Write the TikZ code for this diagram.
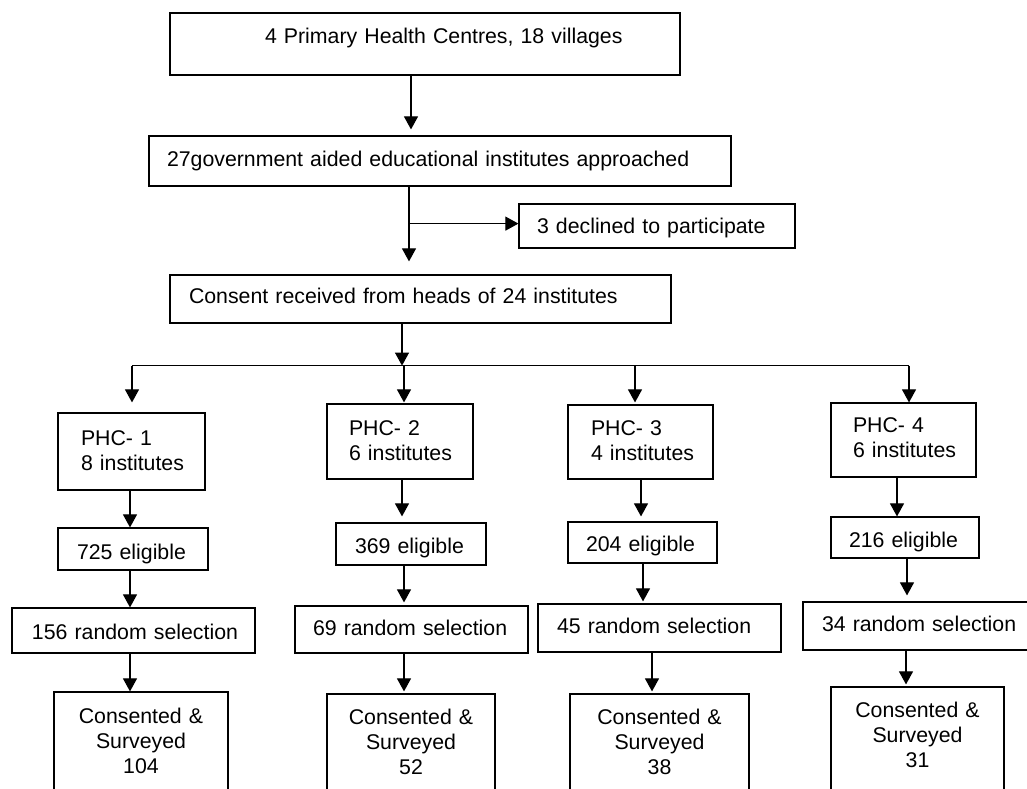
\documentclass[tikz,border=0pt]{standalone}
\usepackage{fontspec}
\setmainfont{Liberation Sans}
\usetikzlibrary{arrows.meta}
\begin{document}
\begin{tikzpicture}[x=1pt,y=-1pt,
  box/.style={draw, line width=1.2pt, rectangle, inner sep=0pt, align=left,
    font=\fontsize{21.3}{25}\selectfont},
  bx/.style n args={4}{box, minimum width=#1pt, minimum height=#2pt, text width=#1pt,
    text height=#3pt, text depth=#4pt},
  cbx/.style n args={4}{bx={#1}{#2}{#3}{#4}, align=center},
  arr/.style={line width=1.1pt, -{Triangle[length=13pt,width=14pt]}},
  ln/.style={line width=1.1pt}]
\useasboundingbox (0,0) rectangle (1027,788);
\clip (0,0) rectangle (1027,788);

\node[bx={510}{62}{0}{2}] (top) at (425,44) {\hspace*{95pt}4 Primary Health Centres, 18 villages};
\node[bx={582}{50}{10}{0}] (b2) at (440,161) {\hspace*{18pt}27government aided educational institutes approached};
\node[bx={276}{44}{14}{0}] (dec) at (657,226) {\hspace*{18pt}3 declined to participate};
\node[bx={501}{48}{8}{0}] (con) at (420.5,299) {\hspace*{19pt}Consent received from heads of 24 institutes};

\node[bx={147}{77}{0}{13}] (p1) at (131.5,451.5) {\hspace*{23pt}PHC- 1\\\hspace*{23pt}8 institutes};
\node[bx={146}{75}{0}{13}] (p2) at (400,441.5) {\hspace*{22pt}PHC- 2\\\hspace*{22pt}6 institutes};
\node[bx={145}{74}{0}{14}] (p3) at (640.5,442) {\hspace*{23pt}PHC- 3\\\hspace*{23pt}4 institutes};
\node[bx={145}{74}{0}{14.6}] (p4) at (903.5,440) {\hspace*{22pt}PHC- 4\\\hspace*{22pt}6 institutes};

\node[bx={150}{42}{20}{0}] (e1) at (133,549) {\hspace*{19pt}725 eligible};
\node[bx={150}{42}{18}{0}] (e2) at (411,544) {\hspace*{19pt}369 eligible};
\node[bx={149}{41}{17}{0}] (e3) at (642.5,542.5) {\hspace*{18pt}204 eligible};
\node[bx={148}{41}{19}{0}] (e4) at (905,537.5) {\hspace*{18pt}216 eligible};

\node[bx={243}{45}{17}{0}] (r1) at (133.5,630.5) {\hspace*{20pt}156 random selection};
\node[bx={233}{47}{11}{0}] (r2) at (411.5,629.5) {\hspace*{18pt}69 random selection};
\node[bx={243}{48}{10}{0}] (r3) at (659.5,628) {\hspace*{19pt}45 random selection};
\node[bx={237}{48}{10}{0}] (r4) at (921.5,626) {\hspace*{19pt}34 random selection};

\node[cbx={174}{108}{0}{46}] (c1) at (141,746) {Consented \&\\Surveyed\\104};
\node[cbx={168}{106}{0}{46}] (c2) at (411,747) {Consented \&\\Surveyed\\52};
\node[cbx={179}{106}{0}{46}] (c3) at (659.5,747) {Consented \&\\Surveyed\\38};
\node[cbx={173}{113}{0}{53}] (c4) at (917.5,743.5) {Consented \&\\Surveyed\\31};

% top part
\draw[arr, shorten >=6pt] ([xshift=-14pt]top.south) -- ([xshift=-14pt]top.south |- b2.north);
\draw[arr, shorten >=13pt] ([xshift=-31pt]b2.south) -- ([xshift=-31pt]b2.south |- con.north);
\coordinate (br) at ([xshift=-31pt,yshift=-37pt]b2.south);
\draw[arr] (br) -- (br -| dec.west);

% split
\coordinate (hub) at ([xshift=-18.5pt,yshift=-42pt]con.south);
\draw[arr] ([xshift=-18.5pt]con.south) -- (hub);
\coordinate (t1) at ([xshift=0.5pt,yshift=10pt]p1.north);
\coordinate (t2) at ([xshift=4pt,yshift=1pt]p2.north);
\coordinate (t3) at ([xshift=-5.5pt,yshift=2pt]p3.north);
\coordinate (t4) at ([xshift=5.5pt]p4.north);
\draw[ln] (hub -| t1) -- (hub -| t4);
\foreach \t in {t1,t2,t3,t4}{\draw[arr] (hub -| \t) -- (\t);}

% PHC -> eligible
\draw[arr] ([xshift=-1.5pt]p1.south) -- ([xshift=-1.5pt]p1.south |- e1.north);
\draw[arr, shorten >=6pt] ([xshift=2pt]p2.south) -- ([xshift=2pt]p2.south |- e2.north);
\draw[arr, shorten >=5pt] ([xshift=0.5pt]p3.south) -- ([xshift=0.5pt]p3.south |- e3.north);
\draw[arr] ([xshift=-6.5pt]p4.south) -- ([xshift=-6.5pt]p4.south |- e4.north);

% eligible -> random
\draw[arr] ([xshift=-3pt]e1.south) -- ([xshift=-3pt]e1.south |- r1.north);
\draw[arr, shorten >=3pt] ([xshift=-7pt]e2.south) -- ([xshift=-7pt]e2.south |- r2.north);
\draw[arr, shorten >=2pt] ([xshift=0.5pt]e3.south) -- ([xshift=0.5pt]e3.south |- r3.north);
\draw[arr, shorten >=6pt] ([xshift=2pt]e4.south) -- ([xshift=2pt]e4.south |- r4.north);

% random -> consented
\draw[arr] ([xshift=-3.5pt]r1.south) -- ([xshift=-3.5pt]r1.south |- c1.north);
\draw[arr, shorten >=2pt] ([xshift=-7.5pt]r2.south) -- ([xshift=-7.5pt]r2.south |- c2.north);
\draw[arr, shorten >=2pt] ([xshift=-7.5pt]r3.south) -- ([xshift=-7.5pt]r3.south |- c3.north);
\draw[arr, shorten >=2pt] ([xshift=-15.5pt]r4.south) -- ([xshift=-15.5pt]r4.south |- c4.north);
\end{tikzpicture}
\end{document}
